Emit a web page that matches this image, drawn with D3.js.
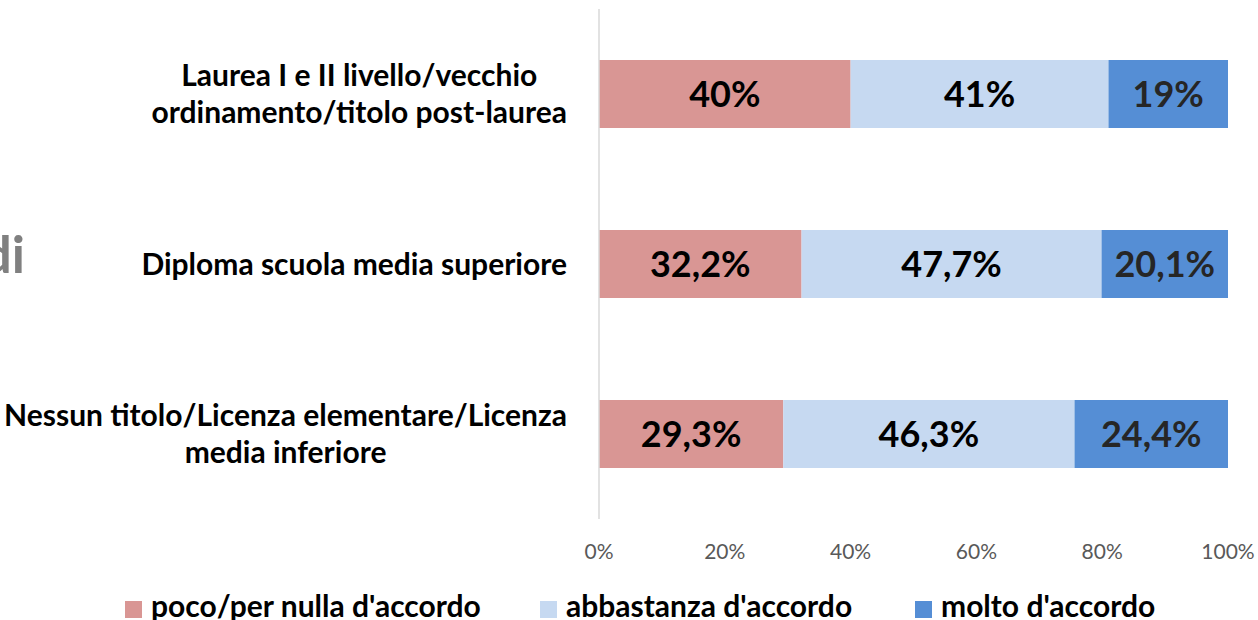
<!DOCTYPE html>
<html>
<head>
<meta charset="utf-8">
<script src="https://cdn.jsdelivr.net/npm/d3@7"></script>
<style>
  body { margin: 0; background: #fff; }
  text { font-family: Lato, "Open Sans", sans-serif; }
</style>
</head>
<body>
<script>
// chart data
var categories = [
  ["Laurea I e II livello/vecchio", "ordinamento/titolo post-laurea"],
  ["Diploma scuola media superiore"],
  ["Nessun titolo/Licenza elementare/Licenza", "media inferiore"]
];
var seriesNames = ["poco/per nulla d'accordo", "abbastanza d'accordo", "molto d'accordo"];
var poco = [40, 32.2, 29.3];
var abbastanza = [41, 47.7, 46.3];
var molto = [19, 20.1, 24.4];
var valueLabels = [
  ["40%", "41%", "19%"],
  ["32,2%", "47,7%", "20,1%"],
  ["29,3%", "46,3%", "24,4%"]
];
var ticks = [0, 20, 40, 60, 80, 100];
var colors = ["#D99694", "#C6D9F1", "#558ED5"];

var width = 1258, height = 620;

var svg = d3.select("body").append("svg")
    .attr("width", width)
    .attr("height", height);

var x = d3.scaleLinear().domain([0, 100]).range([599, 1228]);
var y = d3.scaleBand().domain(d3.range(categories.length)).range([9, 519]).paddingInner(0.6).paddingOuter(0.3);

// stack the series
var rows = categories.map(function(c, i) {
  return { i: i, v: [poco[i], abbastanza[i], molto[i]] };
});

// clipped title fragment on the left edge
svg.append("text")
    .attr("x", 25).attr("y", 273)
    .attr("text-anchor", "end")
    .attr("font-size", 52).attr("font-weight", "bold")
    .attr("fill", "#808080")
    .text("di");

// bars
rows.forEach(function(r) {
  var acc = 0;
  r.v.forEach(function(v, j) {
    var x0 = acc, x1 = acc + v;
    acc = x1;
    svg.append("rect")
        .attr("x", x(x0)).attr("y", y(r.i))
        .attr("width", x(x1) - x(x0)).attr("height", y.bandwidth())
        .attr("fill", colors[j]);
    svg.append("text")
        .attr("x", (x(x0) + x(x1)) / 2)
        .attr("y", y(r.i) + y.bandwidth() / 2)
        .attr("dy", "0.35em")
        .attr("text-anchor", "middle")
        .attr("font-size", 36).attr("font-weight", "bold")
        .attr("fill", j == 2 ? "#262626" : "#000")
        .text(valueLabels[r.i][j]);
  });
});

// vertical axis line
svg.append("line")
    .attr("x1", x(0)).attr("x2", x(0))
    .attr("y1", 9).attr("y2", 519)
    .attr("stroke", "#d9d9d9").attr("stroke-width", 1.5);

// category labels
categories.forEach(function(lines, i) {
  var cy = y(i) + y.bandwidth() / 2;
  var t = svg.append("text")
      .attr("font-size", 30).attr("font-weight", "bold")
      .attr("fill", "#000");
  lines.forEach(function(l, k) {
    t.append("tspan")
        .attr("y", cy + (k - (lines.length - 1) / 2) * 37)
        .attr("dy", "0.35em")
        .text(l);
  });
  // centre lines on widest, right edge at 567
  var widths = [];
  t.selectAll("tspan").each(function() { widths.push(this.getComputedTextLength()); });
  var w = d3.max(widths);
  t.attr("text-anchor", "middle");
  t.selectAll("tspan").attr("x", 567 - w / 2);
});

// x axis tick labels
svg.selectAll(".tick")
  .data(ticks)
  .enter().append("text")
    .attr("class", "tick")
    .attr("x", function(d) { return x(d); })
    .attr("y", 552)
    .attr("dy", "0.35em")
    .attr("text-anchor", "middle")
    .attr("font-size", 21)
    .attr("fill", "#595959")
    .text(function(d) { return d + "%"; });

// legend (sits on the bottom edge like the original)
var legendX = [125, 540, 915];
seriesNames.forEach(function(n, j) {
  svg.append("rect")
      .attr("x", legendX[j]).attr("y", 601)
      .attr("width", 17).attr("height", 17)
      .attr("fill", colors[j]);
  svg.append("text")
      .attr("x", legendX[j] + 26).attr("y", 617)
      .attr("font-size", 30).attr("font-weight", "bold")
      .attr("fill", "#000")
      .text(n);
});
</script>
</body>
</html>
